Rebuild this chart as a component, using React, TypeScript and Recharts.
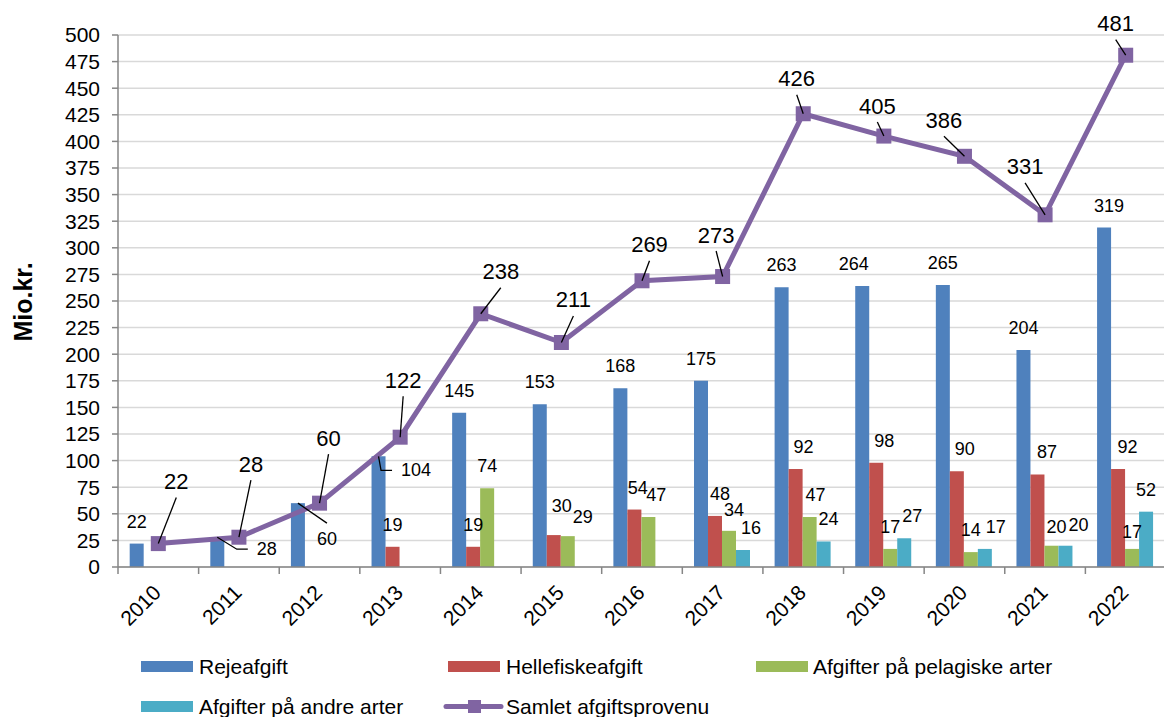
import React from 'react';
import { ComposedChart, Bar, Line, XAxis, YAxis, CartesianGrid, LabelList } from 'recharts';

const years = ['2010', '2011', '2012', '2013', '2014', '2015', '2016', '2017', '2018', '2019', '2020', '2021', '2022'];
const rejeafgift = [22, 28, 60, 104, 145, 153, 168, 175, 263, 264, 265, 204, 319];
const hellefiskeafgift = [null, null, null, 19, 19, 30, 54, 48, 92, 98, 90, 87, 92];
const pelagiske = [null, null, null, null, 74, 29, 47, 34, 47, 17, 14, 20, 17];
const andreArter = [null, null, null, null, null, null, null, 16, 24, 27, 17, 20, 52];
const samlet = [22, 28, 60, 122, 238, 211, 269, 273, 426, 405, 386, 331, 481];
const yTicks = [0, 25, 50, 75, 100, 125, 150, 175, 200, 225, 250, 275, 300, 325, 350, 375, 400, 425, 450, 475, 500];

const seriesNames = ['Rejeafgift', 'Hellefiskeafgift', 'Afgifter på pelagiske arter', 'Afgifter på andre arter', 'Samlet afgiftsprovenu'];
const colors = ['#4F81BD', '#C0504D', '#9BBB59', '#4BACC6', '#8064A2'];

const data = years.map((year, i) => ({
  year,
  reje: rejeafgift[i],
  helle: hellefiskeafgift[i],
  pelag: pelagiske[i],
  andre: andreArter[i],
  samlet: samlet[i],
}));

// geometry of the plot
const CHART_W = 1170;
const CHART_H = 717;
const LEFT = 118;
const RIGHT_MARGIN = 4;
const TOP = 35;
const X_AXIS_H = 150;
const AXIS_Y = CHART_H - X_AXIS_H;
const BAND = (CHART_W - LEFT - RIGHT_MARGIN) / years.length;
const FONT = '"Liberation Sans", Arial, sans-serif';

type Nudge = { dx: number; dy: number; leader?: 'elbow' | 'straight' };

// manual label nudges (like the moved labels in the Excel original)
const barNudge: Record<string, Record<string, Nudge>> = {
  reje: {
    '2011': { dx: 49.5, dy: 34, leader: 'elbow' },
    '2012': { dx: 29, dy: 58, leader: 'straight' },
    '2013': { dx: 37.5, dy: 36, leader: 'elbow' },
    '2019': { dx: -8.5, dy: 0 },
    '2022': { dx: 5, dy: 0 },
  },
  helle: {
    '2015': { dx: 8, dy: -7 },
    '2016': { dx: 3.5, dy: 0 },
    '2017': { dx: 5, dy: 0 },
    '2018': { dx: 8, dy: 0 },
    '2019': { dx: 8, dy: 0 },
    '2020': { dx: 8, dy: 0 },
    '2021': { dx: 9.5, dy: 0 },
    '2022': { dx: 9.5, dy: 0 },
  },
  pelag: {
    '2015': { dx: 15, dy: 2.5 },
    '2016': { dx: 8, dy: 0 },
    '2017': { dx: 5, dy: 1 },
    '2018': { dx: 6, dy: 0 },
    '2021': { dx: 5, dy: 3.5 },
    '2022': { dx: 0, dy: 5 },
  },
  andre: {
    '2017': { dx: 8, dy: 0 },
    '2018': { dx: 5, dy: 0 },
    '2019': { dx: 8, dy: 0 },
    '2020': { dx: 11, dy: 0 },
    '2021': { dx: 13, dy: 1 },
  },
};

const lineNudge: [number, number][] = [
  [18, -62], [12, -73], [9, -65], [3, -57], [20, -42], [12, -42.5], [7.5, -36],
  [-6.5, -41.5], [-6.5, -35], [-6.5, -30], [-20.5, -36], [-20, -48], [-10, -31.5],
];

const makeBarLabel = (key: string) => (props: any) => {
  const { x, y, width, value } = props;
  if (value == null || value === 0) return null;
  const cx = Number(x) + Number(width) / 2;
  // LabelList skips empty entries, so find the year from the bar position
  const yearIdx = Math.floor((cx - LEFT) / BAND);
  const n = barNudge[key]?.[years[yearIdx]] ?? { dx: 0, dy: 0 };
  const top = Number(y);
  const lx = cx + n.dx;
  const ly = top - 22 + n.dy;
  let leader = null;
  if (n.leader === 'elbow') {
    const left = lx - String(value).length * 5;
    leader = <polyline points={`${cx},${top} ${left - 20},${ly} ${left - 9},${ly}`} fill="none" stroke="#000" strokeWidth={1.3} />;
  } else if (n.leader === 'straight') {
    leader = <line x1={cx} y1={top} x2={lx} y2={ly - 16} stroke="#000" strokeWidth={1.3} />;
  }
  return (
    <g>
      {leader}
      <text x={lx} y={ly} textAnchor="middle" dominantBaseline="central" fontSize={18} fontFamily={FONT} fill="#000">
        {value}
      </text>
    </g>
  );
};

const LineLabel = (props: any) => {
  const { x, y, value } = props;
  const idx = Math.floor((Number(x) - LEFT) / BAND);
  const [dx, dy] = lineNudge[idx] ?? [0, -30];
  const lx = Number(x) + dx;
  const ly = Number(y) + dy;
  return (
    <g>
      <line x1={lx} y1={ly + 16} x2={x} y2={y} stroke="#000" strokeWidth={1.3} />
      <text x={lx} y={ly} textAnchor="middle" dominantBaseline="central" fontSize={22} fontFamily={FONT} fill="#000">
        {value}
      </text>
    </g>
  );
};

const SquareDot = (props: any) => {
  const { cx, cy, index } = props;
  return <rect key={`sq-${index}`} x={cx - 7.5} y={cy - 7.5} width={15} height={15} fill={colors[4]} />;
};

const YearTick = (props: any) => {
  const { x, payload, index } = props;
  const ax = x + 4;
  const ay = AXIS_Y + 27;
  return (
    <g>
      <line x1={x - BAND / 2} y1={AXIS_Y} x2={x - BAND / 2} y2={AXIS_Y + 7} stroke="#868686" strokeWidth={1.5} />
      {index === years.length - 1 && (
        <line x1={x + BAND / 2} y1={AXIS_Y} x2={x + BAND / 2} y2={AXIS_Y + 7} stroke="#868686" strokeWidth={1.5} />
      )}
      <text x={ax} y={ay} transform={`rotate(-45, ${ax}, ${ay})`} textAnchor="end" fontSize={21} fontFamily={FONT} fill="#000">
        {payload.value}
      </text>
    </g>
  );
};

function LegendOverlay() {
  const rowY = [666.5, 706.5];
  const items = [
    { sx: 141, tx: 199, row: 0 },
    { sx: 448, tx: 506, row: 0 },
    { sx: 756, tx: 813, row: 0 },
    { sx: 141, tx: 199, row: 1 },
    { sx: 446, tx: 506, row: 1 },
  ];
  return (
    <svg width={1164} height={717} style={{ position: 'absolute', left: 0, top: 0, pointerEvents: 'none' }}>
      {items.map((it, i) => {
        const cy = rowY[it.row];
        return (
          <g key={seriesNames[i]}>
            {i < 4 ? (
              <rect x={it.sx} y={cy - 5.5} width={52} height={11} fill={colors[i]} />
            ) : (
              <g>
                <line x1={it.sx} y1={cy} x2={it.sx + 55} y2={cy} stroke={colors[4]} strokeWidth={5} strokeLinecap="round" />
                <rect x={it.sx + 22} y={cy - 6.5} width={13} height={13} fill={colors[4]} />
              </g>
            )}
            <text x={it.tx} y={cy} dominantBaseline="central" fontSize={21} fontFamily={FONT} fill="#000">
              {seriesNames[i]}
            </text>
          </g>
        );
      })}
    </svg>
  );
}

export default function App() {
  return (
    <div style={{ position: 'absolute', left: 0, top: 0, width: 1164, height: 717, overflow: 'hidden', background: '#fff' }}>
      <ComposedChart
        width={CHART_W}
        height={CHART_H}
        data={data}
        margin={{ top: TOP, right: RIGHT_MARGIN, bottom: 0, left: 0 }}
        barCategoryGap="14.5%"
        barGap={0}
      >
        <CartesianGrid vertical={false} stroke="#D9D9D9" strokeWidth={1.5} />
        <XAxis
          dataKey="year"
          height={X_AXIS_H}
          interval={0}
          tickLine={false}
          axisLine={{ stroke: '#868686', strokeWidth: 1.5 }}
          tick={<YearTick />}
        />
        <YAxis
          width={LEFT}
          domain={[0, 500]}
          ticks={yTicks}
          interval={0}
          tickSize={6}
          tickMargin={12}
          axisLine={{ stroke: '#868686', strokeWidth: 1.5 }}
          tickLine={{ stroke: '#868686', strokeWidth: 1.5 }}
          tick={{ fill: '#000', fontSize: 21, fontFamily: FONT }}
          label={() => (
            <text x={23} y={302} transform="rotate(-90, 23, 302)" textAnchor="middle" dominantBaseline="central" fontSize={25} fontWeight="bold" fontFamily={FONT} fill="#000">
              Mio.kr.
            </text>
          )}
        />
        <Bar dataKey="reje" name={seriesNames[0]} fill={colors[0]} isAnimationActive={false}>
          <LabelList dataKey="reje" content={makeBarLabel('reje')} />
        </Bar>
        <Bar dataKey="helle" name={seriesNames[1]} fill={colors[1]} isAnimationActive={false}>
          <LabelList dataKey="helle" content={makeBarLabel('helle')} />
        </Bar>
        <Bar dataKey="pelag" name={seriesNames[2]} fill={colors[2]} isAnimationActive={false}>
          <LabelList dataKey="pelag" content={makeBarLabel('pelag')} />
        </Bar>
        <Bar dataKey="andre" name={seriesNames[3]} fill={colors[3]} isAnimationActive={false}>
          <LabelList dataKey="andre" content={makeBarLabel('andre')} />
        </Bar>
        <Line
          dataKey="samlet"
          name={seriesNames[4]}
          stroke={colors[4]}
          strokeWidth={5}
          dot={<SquareDot />}
          activeDot={false}
          isAnimationActive={false}
        >
          <LabelList dataKey="samlet" content={LineLabel} />
        </Line>
      </ComposedChart>
      <LegendOverlay />
    </div>
  );
}
